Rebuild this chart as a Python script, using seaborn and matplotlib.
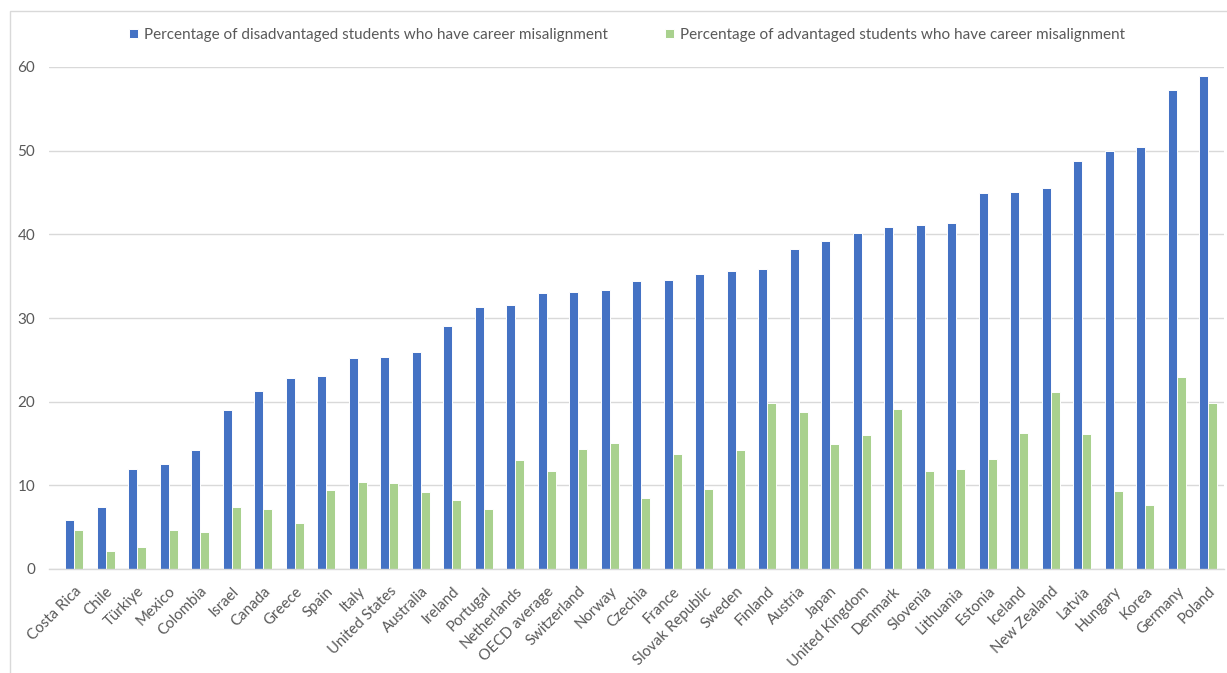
import matplotlib
matplotlib.use("Agg")
import matplotlib.pyplot as plt
import seaborn as sns
import pandas as pd
from matplotlib.patches import Rectangle

countries = [
    "Costa Rica", "Chile", "Türkiye", "Mexico", "Colombia", "Israel", "Canada",
    "Greece", "Spain", "Italy", "United States", "Australia", "Ireland",
    "Portugal", "Netherlands", "OECD average", "Switzerland", "Norway",
    "Czechia", "France", "Slovak Republic", "Sweden", "Finland", "Austria",
    "Japan", "United Kingdom", "Denmark", "Slovenia", "Lithuania", "Estonia",
    "Iceland", "New Zealand", "Latvia", "Hungary", "Korea", "Germany", "Poland",
]
disadvantaged = [
    5.9, 7.4, 12.0, 12.6, 14.2, 19.0, 21.3, 22.8, 23.1, 25.2, 25.3, 25.9,
    29.1, 31.3, 31.6, 33.0, 33.1, 33.3, 34.4, 34.5, 35.2, 35.6, 35.8, 38.2,
    39.2, 40.1, 40.9, 41.1, 41.3, 44.9, 45.1, 45.5, 48.8, 50.0, 50.4, 57.2, 58.9,
]
advantaged = [
    4.7, 2.2, 2.6, 4.7, 4.4, 7.4, 7.2, 5.5, 9.4, 10.4, 10.3, 9.2,
    8.3, 7.2, 13.0, 11.7, 14.3, 15.1, 8.5, 13.8, 9.6, 14.2, 19.8, 18.8,
    14.9, 16.0, 19.1, 11.7, 12.0, 13.2, 16.2, 21.2, 16.1, 9.3, 7.6, 22.9, 19.8,
]
series_names = [
    "Percentage of disadvantaged students who have career misalignment",
    "Percentage of advantaged students who have career misalignment",
]
yticks = [0, 10, 20, 30, 40, 50, 60]

df = pd.DataFrame({
    "country": countries * 2,
    "value": disadvantaged + advantaged,
    "series": [series_names[0]] * len(countries) + [series_names[1]] * len(countries),
})

sns.set_theme(style="white")
plt.rcParams["font.family"] = ["Lato", "DejaVu Sans"]

text_color = "#595959"
grid_color = "#D9D9D9"
palette = {series_names[0]: "#4472C4", series_names[1]: "#A9D18E"}

fig = plt.figure(figsize=(12.27, 6.73), dpi=100)
ax = fig.add_axes([49 / 1227, 1 - 569 / 673, (1224 - 49) / 1227, (569 - 67) / 673])

sns.barplot(
    data=df, x="country", y="value", hue="series", order=countries,
    hue_order=series_names, palette=palette, width=0.56,
    edgecolor="white", linewidth=0.7, saturation=1, ax=ax, legend=True,
)

ax.set_xlim(-0.8, len(countries) - 0.5)
ax.set_ylim(0, 60)
ax.set_yticks(yticks)
ax.set_yticklabels([str(t) for t in yticks], fontsize=11, color=text_color)
ax.set_xticks(range(len(countries)))
ax.set_xticklabels(countries, rotation=45, ha="right", rotation_mode="anchor",
                   fontsize=10.8, color=text_color)
ax.tick_params(axis="x", length=0, pad=11)
ax.tick_params(axis="y", length=0, pad=10)
ax.set_xlabel("")
ax.set_ylabel("")
ax.yaxis.grid(True, color=grid_color, linewidth=1)
ax.set_axisbelow(True)
for side in ["top", "right", "left"]:
    ax.spines[side].set_visible(False)
ax.spines["bottom"].set_color(grid_color)
ax.spines["bottom"].set_linewidth(1)

handles, labels = ax.get_legend_handles_labels()
ax.legend_.remove()
fig.legend(
    handles, labels, loc="center", bbox_to_anchor=(0.511, 1 - 35 / 673), ncol=2,
    frameon=False, fontsize=11, labelcolor=text_color, handlelength=0.6,
    handleheight=0.6, handletextpad=0.4, columnspacing=3.7,
)

# light outer frame around the chart area
fig.add_artist(Rectangle((10 / 1227, -0.01), 1.2, 1 - 11 / 673 + 0.01,
                         transform=fig.transFigure, fill=False,
                         edgecolor=grid_color, linewidth=1))

fig.savefig("out.png", dpi=100, facecolor="white")
